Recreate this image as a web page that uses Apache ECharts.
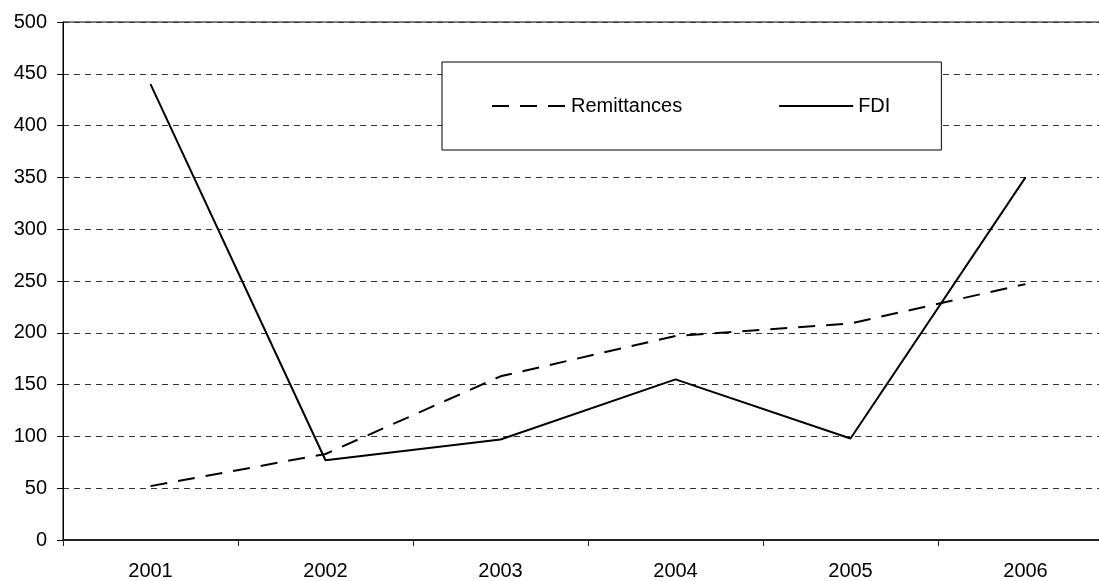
<!DOCTYPE html>
<html>
<head>
<meta charset="utf-8">
<script src="https://cdn.jsdelivr.net/npm/echarts@6/dist/echarts.min.js"></script>
<style>
html,body{margin:0;padding:0;background:#fff;overflow:hidden;width:1099px;height:581px;}
#chart{width:1114px;height:581px;}
</style>
</head>
<body>
<div id="chart"></div>
<script>
var years = ['2001','2002','2003','2004','2005','2006'];
var remittances = [52, 83, 158, 197, 209, 247];
var fdi = [440, 77, 97, 155, 98, 350];
var yTicks = {min: 0, max: 500, interval: 50};

var chart = echarts.init(document.getElementById('chart'));
var font = 'Liberation Sans, Arial, sans-serif';
chart.setOption({
  animation: false,
  backgroundColor: '#fff',
  grid: {
    left: 63, top: 22, width: 1050, height: 519,
    show: true, borderColor: '#000', borderWidth: 1, backgroundColor: 'transparent'
  },
  legend: {
    left: 442, top: 62,
    padding: [34, 51, 34, 49],
    backgroundColor: '#fff',
    borderColor: '#000', borderWidth: 1,
    itemWidth: 74, itemHeight: 14, itemGap: 96,
    itemStyle: {color: 'transparent', borderWidth: 0, opacity: 0},
    textStyle: {fontFamily: font, fontSize: 20, color: '#000', lineHeight: 20},
    data: ['Remittances', 'FDI']
  },
  xAxis: {
    type: 'category',
    data: years,
    boundaryGap: true,
    axisLine: {lineStyle: {color: '#222', width: 2}},
    axisTick: {show: true, length: 6, interval: 0, lineStyle: {color: '#222', width: 1}},
    axisLabel: {fontFamily: font, fontSize: 20, color: '#000', margin: 21, interval: 0},
    splitLine: {show: false}
  },
  yAxis: {
    type: 'value',
    min: yTicks.min, max: yTicks.max, interval: yTicks.interval,
    axisLine: {show: true, lineStyle: {color: '#000', width: 1}},
    axisTick: {show: true, length: 6, lineStyle: {color: '#000'}},
    axisLabel: {fontFamily: font, fontSize: 20, color: '#000', margin: 16},
    splitLine: {show: true, lineStyle: {color: '#333', width: 1, type: [6, 5]}}
  },
  series: [
    {
      name: 'Remittances', type: 'line', data: remittances,
      symbol: 'none', showSymbol: false,
      lineStyle: {color: '#000', width: 2, type: [17, 11]},
      itemStyle: {color: '#000'}
    },
    {
      name: 'FDI', type: 'line', data: fdi,
      symbol: 'none', showSymbol: false,
      lineStyle: {color: '#000', width: 2, type: 'solid'},
      itemStyle: {color: '#000'}
    }
  ]
});
</script>
</body>
</html>
